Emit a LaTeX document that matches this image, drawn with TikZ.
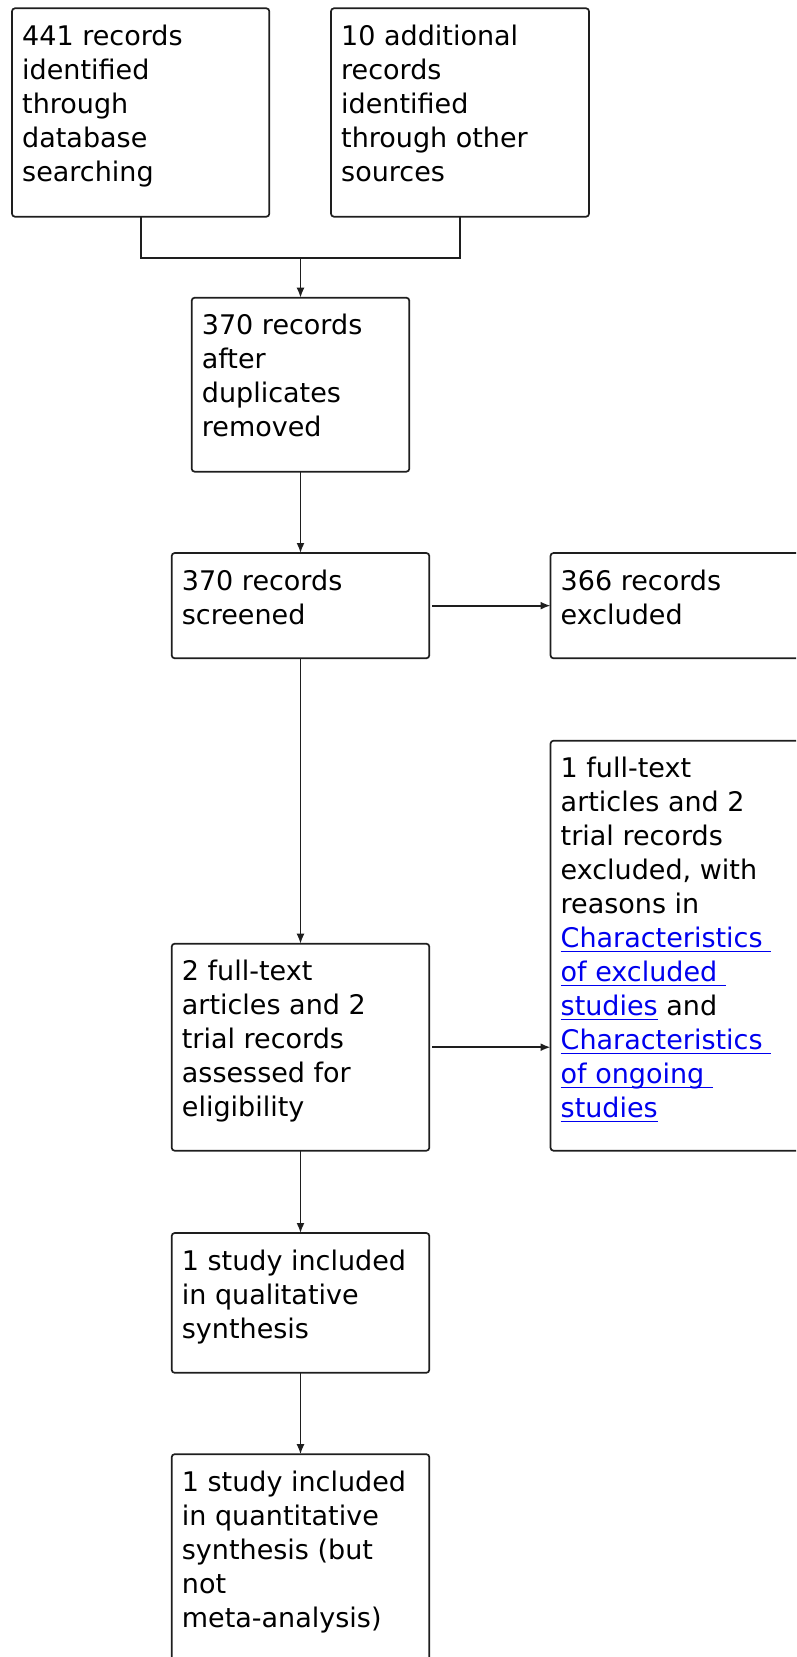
\documentclass[tikz,border=0pt]{standalone}
\usepackage{fontspec}
\setmainfont{DejaVu Sans}
\usetikzlibrary{arrows.meta}
\definecolor{linkblue}{RGB}{0,0,238}
\definecolor{boxline}{RGB}{30,30,30}
\newcommand\myul[1]{\setbox0\hbox{#1}\rlap{\color{linkblue}\rule[-4.5pt]{\wd0}{1.3pt}}\textcolor{linkblue}{#1}}
\begin{document}
\begin{tikzpicture}[x=1pt,y=-1pt,
  flowbox/.style={draw=boxline, line width=1.7pt, rounded corners=3pt, anchor=north west, inner sep=0pt, outer sep=0pt},
  flowtext/.style={anchor=north west, inner sep=0pt, align=left, font=\fontsize{27}{34}\selectfont, text=black},
  flowarrow/.style={draw=boxline, line width=1.7pt, -{Latex[length=10pt,width=8pt]}},
  flowline/.style={draw=boxline, line width=1.7pt}]
\useasboundingbox (0,0) rectangle (796,1657);
\clip (0,0) rectangle (796,1657);
% boxes
\node[flowbox, minimum width=257.3pt, minimum height=208.4pt] (b1) at (12,8.3) {};
\node[flowbox, minimum width=258pt, minimum height=208.4pt] (b2) at (331,8.3) {};
\node[flowbox, minimum width=217.6pt, minimum height=174pt] (b3) at (191.7,297.7) {};
\node[flowbox, minimum width=257.6pt, minimum height=105.3pt] (b4) at (171.7,553) {};
\node[flowbox, minimum width=300pt, minimum height=105.3pt] (b5) at (550.5,553) {};
\node[flowbox, minimum width=300pt, minimum height=410pt] (b6) at (550.5,740.7) {};
\node[flowbox, minimum width=257.6pt, minimum height=207pt] (b7) at (171.7,943.7) {};
\node[flowbox, minimum width=257.6pt, minimum height=139.8pt] (b8) at (171.7,1233) {};
\node[flowbox, minimum width=257.6pt, minimum height=300pt] (b9) at (171.7,1454.2) {};
% texts
\node[flowtext] (t1) at ([shift={(10,13)}]b1.north west) {\strut 441 records\\identified\\through\\database\\searching};
\node[flowtext] (t2) at ([shift={(10,13)}]b2.north west) {\strut 10 additional\\records\\identified\\through other\\sources};
\node[flowtext] (t3) at ([shift={(10,13)}]b3.north west) {\strut 370 records\\after\\duplicates\\removed};
\node[flowtext] (t4) at ([shift={(10,13)}]b4.north west) {\strut 370 records\\screened};
\node[flowtext] (t5) at ([shift={(10,13)}]b5.north west) {\strut 366 records\\excluded};
\node[flowtext] (t6) at ([shift={(10,13)}]b6.north west) {\strut 1 full-text\\articles and 2\\trial records\\excluded, with\\reasons in\\\myul{Characteristics\ }\\\myul{of excluded\ }\\\myul{studies} and\\\myul{Characteristics\ }\\\myul{of ongoing\ }\\\myul{studies}};
\node[flowtext] (t7) at ([shift={(10,13)}]b7.north west) {\strut 2 full-text\\articles and 2\\trial records\\assessed for\\eligibility};
\node[flowtext] (t8) at ([shift={(10,13)}]b8.north west) {\strut 1 study included\\in qualitative\\synthesis};
\node[flowtext] (t9) at ([shift={(10,13)}]b9.north west) {\strut 1 study included\\in quantitative\\synthesis (but\\not\\meta-analysis)};
% connectors
\coordinate (jy) at (0,258.3);
\coordinate (jn) at (b3.north |- jy);
\draw[flowline] (b1.south) |- (jn) -| (b2.south);
\draw[flowarrow] (jn) -- (b3.north);
\draw[flowarrow] (b3.south) -- (b4.north);
\draw[flowarrow, shorten <=3pt] (b4.east) -- (b5.west |- b4.east);
\draw[flowarrow] (b4.south) -- (b7.north);
\draw[flowarrow, shorten <=3pt] (b7.east) -- (b6.west |- b7.east);
\draw[flowarrow] (b7.south) -- (b8.north);
\draw[flowarrow] (b8.south) -- (b9.north);
\end{tikzpicture}
\end{document}
